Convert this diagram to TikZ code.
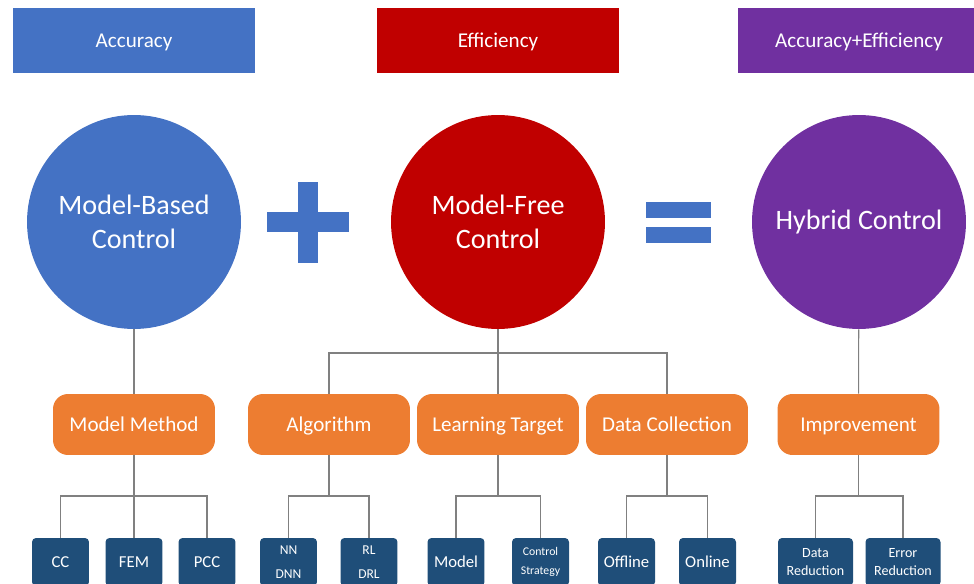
\documentclass[tikz,border=0pt]{standalone}
\usepackage{fontspec}
\setmainfont{Carlito}
\usepackage{tikz}
\usetikzlibrary{positioning}

\definecolor{accblue}{HTML}{4472C4}
\definecolor{effred}{HTML}{C00000}
\definecolor{hybpurple}{HTML}{7030A0}
\definecolor{catorange}{HTML}{ED7D31}
\definecolor{leafblue}{HTML}{1F4E79}
\definecolor{linegray}{HTML}{808080}

\begin{document}
\begin{tikzpicture}[
        x=0.02cm, y=-0.02cm,
        head/.style  = {minimum width=4.84cm, minimum height=1.3cm, inner sep=0pt,
                        text height=2.1ex, text depth=0.45ex,
                        text=white, font=\fontsize{12}{14}\selectfont},
        ctrl/.style  = {circle, minimum size=4.28cm, inner sep=0pt, text=white,
                        align=center, font=\fontsize{16}{19.5}\selectfont},
        cat/.style   = {fill=catorange, rounded corners=0.3cm, minimum width=3.24cm,
                        minimum height=1.22cm, inner sep=0pt, text=white,
                        text height=2.1ex, text depth=0.45ex,
                        font=\fontsize{12}{14}\selectfont},
        leaf/.style  = {fill=leafblue, rounded corners=0.08cm, minimum width=1.14cm,
                        minimum height=0.96cm, inner sep=0pt, text=white, align=center,
                        font=\fontsize{9.5}{11}\selectfont},
        small/.style = {font=\fontsize{7.7}{13.6}\selectfont},
        tiny/.style  = {font=\fontsize{6.7}{10.8}\selectfont},
        wide/.style  = {minimum width=1.5cm, font=\fontsize{8}{10}\selectfont},
        link/.style  = {draw=linegray, line width=0.6pt},
    ]
        \clip (0,0) rectangle (974,584);

        % ---- cabeceras ----
        \node (hAcc) [head, fill=accblue]   at (134, 40.5) {Accuracy};
        \node (hEff) [head, fill=effred]    at (498, 40.5) {Efficiency};
        \node (hHyb) [head, fill=hybpurple] at (859, 40.5) {Accuracy+Efficiency};

        % ---- circulos ----
        \node (MB) [ctrl, fill=accblue]   at (134, 222) {Model-Based\\Control};
        \node (MF) [ctrl, fill=effred]    at (498, 222) {Model-Free\\Control};
        \node (HC) [ctrl, fill=hybpurple] at (859, 222) {Hybrid Control};

        % ---- signos + y = ----
        \fill[accblue] (267,212) rectangle (349,232);
        \fill[accblue] (298,182) rectangle (318,263);
        \fill[accblue] (646,202) rectangle (711,218);
        \fill[accblue] (646,227) rectangle (711,243);

        % ---- categorias ----
        \node (MM)  [cat] at (134, 424.5) {Model Method};
        \node (Alg) [cat] at (329, 424.5) {Algorithm};
        \node (LT)  [cat] at (498, 424.5) {Learning Target};
        \node (DC)  [cat] at (667, 424.5) {Data Collection};
        \node (Imp) [cat] at (858.5, 424.5) {Improvement};

        % ---- hojas ----
        \node (CC)  [leaf] at (60.5, 562)  {CC};
        \node (FEM) [leaf] at (134, 562)   {FEM};
        \node (PCC) [leaf] at (207, 562)   {PCC};
        \node (NN)  [leaf, small] at (288.5, 562) {NN\\DNN};
        \node (RL)  [leaf, small] at (369, 562)   {RL\\DRL};
        \node (Mod) [leaf] at (456, 562)   {Model};
        \node (CS)  [leaf, tiny] at (540.5, 562)  {Control\\Strategy};
        \node (Off) [leaf] at (626.5, 562) {Offline};
        \node (On)  [leaf] at (707.5, 562) {Online};
        \node (DR)  [leaf, wide] at (815.5, 562) {Data\\Reduction};
        \node (ER)  [leaf, wide] at (903, 562)   {Error\\Reduction};

        % ---- uniones ----
        \coordinate (mfj) at (498, 353);
        \coordinate (mmj) at (134, 496);
        \coordinate (alj) at (329, 496);
        \coordinate (ltj) at (498, 496);
        \coordinate (dcj) at (667, 496);
        \coordinate (imj) at (858.5, 496);

        % ---- conectores circulo -> categoria ----
        \draw[link] (MB) -- (MM);
        \draw[link] (MF) -- (mfj);
        \draw[link] (Alg) |- (mfj) -| (DC);
        \draw[link] (mfj) -- (LT);
        \draw[link] (HC) -- (Imp);

        % ---- conectores categoria -> hojas ----
        \draw[link] (MM) -- (mmj);
        \draw[link] (CC) |- (mmj) -| (PCC);
        \draw[link] (mmj) -- (FEM);
        \draw[link] (Alg) -- (alj);
        \draw[link] (NN) |- (alj) -| (RL);
        \draw[link] (LT) -- (ltj);
        \draw[link] (Mod) |- (ltj) -| (CS);
        \draw[link] (DC) -- (dcj);
        \draw[link] (Off) |- (dcj) -| (On);
        \draw[link] (Imp) -- (imj);
        \draw[link] (DR) |- (imj) -| (ER);
    \end{tikzpicture}
\end{document}
